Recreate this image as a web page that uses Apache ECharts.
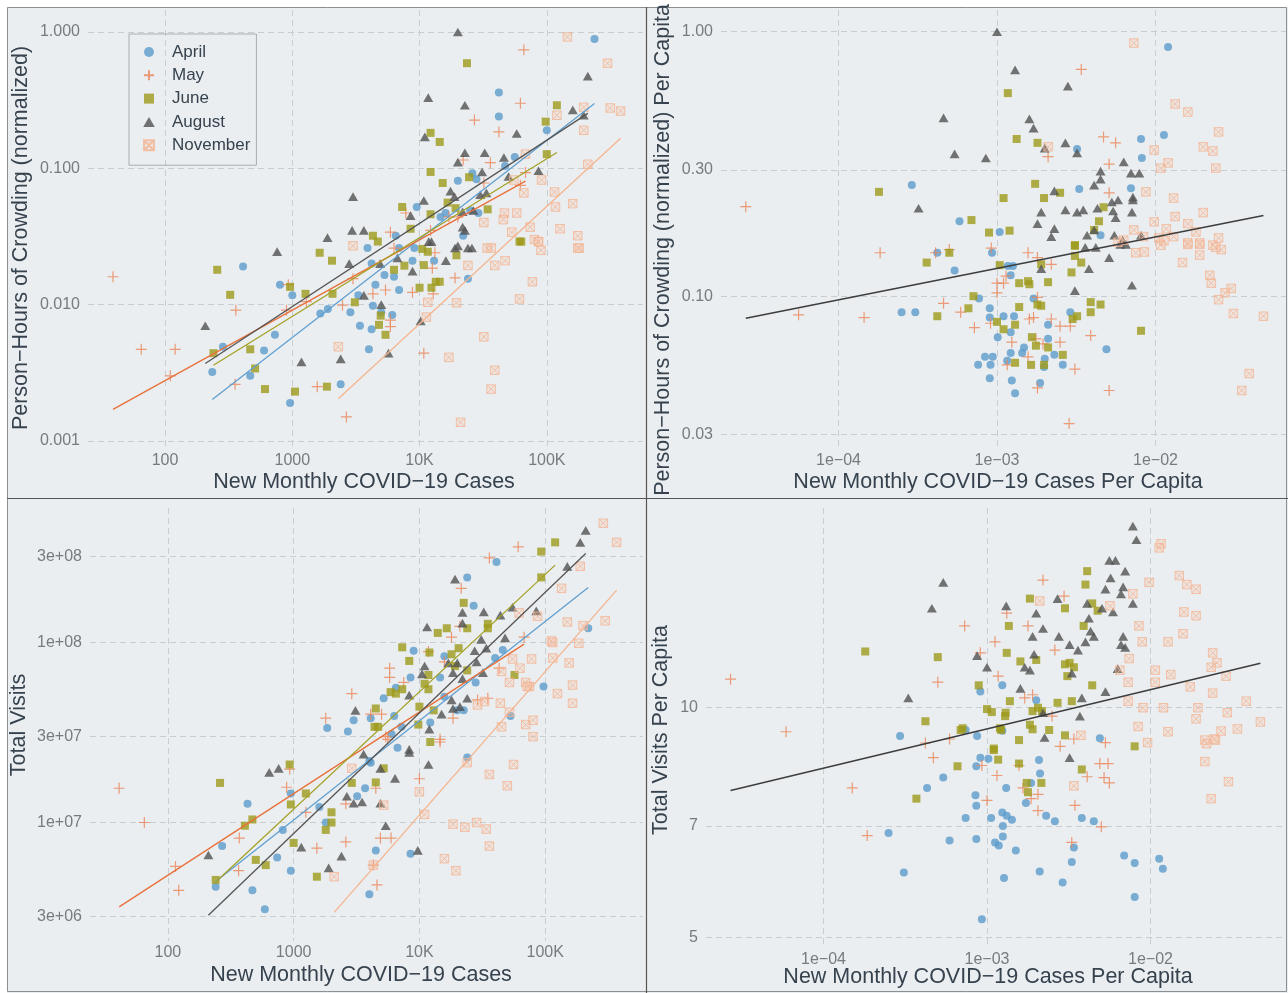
<!DOCTYPE html>
<html><head><meta charset="utf-8">
<script src="https://cdn.jsdelivr.net/npm/echarts@6/dist/echarts.min.js"></script>
<style>html,body{margin:0;padding:0;background:#fff}#c{width:1288px;height:993px;background:#ebeef0}</style>
</head><body><div id="c"></div><script>
// ---------------- DATA ----------------
const months = ['April','May','June','August','November'];

// Top-left: New Monthly COVID-19 Cases vs Person-Hours of Crowding (normalized)
const tlApril = [[235,0.0032],[285,0.0049],[410,0.019],[467,0.003],[600,0.0046],[730,0.006],[800,0.014],[960,0.0019],[1000,0.0117],[1660,0.0086],[1900,0.0093],[2400,0.0026],[2860,0.0088],[3300,0.0117],[3400,0.007],[4000,0.0047],[4300,0.0098],[4200,0.0066],[4500,0.014],[4200,0.02],[5000,0.0088],[5300,0.0165],[6100,0.0084],[6900,0.0128],[6300,0.016],[6900,0.026],[8800,0.021],[9100,0.026],[13000,0.021],[24000,0.0155],[9500,0.052],[20000,0.081],[26000,0.092],[28000,0.083],[42000,0.36],[42000,0.24],[56000,0.121],[47000,0.104],[100000,0.19],[237000,0.89],[14600,0.044],[16000,0.047],[25000,0.049],[29000,0.047],[22000,0.032],[6500,0.032],[3900,0.026]];
const tlMay = [[39,0.016],[65,0.0047],[120,0.0047],[110,0.003],[360,0.0091],[355,0.0026],[900,0.0091],[930,0.014],[1570,0.0025],[1290,0.0105],[2480,0.0099],[2660,0.0015],[3000,0.0155],[4300,0.012],[5400,0.0128],[5900,0.0077],[5900,0.0069],[6300,0.026],[10800,0.0044],[8800,0.0123],[12800,0.012],[13200,0.024],[19000,0.0157],[12600,0.0185],[66000,0.74],[62000,0.30],[27000,0.226],[42000,0.185],[36000,0.11],[22000,0.115],[68000,0.093],[62000,0.075],[32000,0.078],[17000,0.044],[20000,0.044],[7800,0.047],[5900,0.034],[12200,0.035]];
const tlJune = [[257,0.018],[325,0.0118],[240,0.0044],[467,0.0047],[510,0.0034],[610,0.0024],[960,0.0135],[1050,0.0023],[1270,0.012],[1640,0.024],[2050,0.021],[2070,0.012],[1870,0.0025],[3100,0.0104],[4700,0.029],[4950,0.0083],[4800,0.0071],[5400,0.006],[6300,0.018],[7600,0.0193],[10000,0.0133],[10800,0.0195],[10500,0.0256],[11600,0.0244],[12400,0.0133],[13400,0.0147],[14400,0.0147],[19500,0.023],[63000,0.029],[23600,0.59],[12200,0.182],[14400,0.156],[12200,0.094],[15200,0.078],[24500,0.086],[16600,0.056],[19200,0.051],[34300,0.05],[7300,0.052],[12200,0.046],[8500,0.036],[4300,0.032],[120000,0.29],[98000,0.22],[100000,0.127],[61000,0.029]];
const tlAugust = [[207,0.007],[760,0.0245],[1180,0.0038],[1890,0.031],[2800,0.02],[2400,0.004],[3650,0.0117],[5000,0.01],[4900,0.02],[5700,0.0044],[6700,0.022],[8800,0.0176],[10200,0.0076],[12400,0.029],[16100,0.021],[20000,0.027],[25800,0.026],[20000,1.0],[11700,0.33],[22700,0.29],[11000,0.17],[58000,0.18],[22700,0.13],[32500,0.13],[20000,0.111],[46000,0.12],[31000,0.094],[86000,0.096],[50000,0.087],[17500,0.068],[18800,0.062],[33500,0.066],[30000,0.064],[10800,0.058],[8500,0.045],[3000,0.062],[21800,0.048],[26500,0.049],[21800,0.037],[22700,0.035],[2950,0.035],[3650,0.035],[160000,0.268],[210000,0.475],[195000,0.245],[11800,0.029],[19000,0.026],[24000,0.026]];
const tlNovember = [[2300,0.0049],[11300,0.0081],[11600,0.0104],[17000,0.0041],[19500,0.0103],[21000,0.00137],[24000,0.0194],[32000,0.0058],[36500,0.0024],[39000,0.0033],[39000,0.0194],[47000,0.021],[36500,0.026],[61000,0.011],[77000,0.0147],[86000,0.029],[90000,0.025],[180000,0.026],[145000,0.92],[300000,0.59],[315000,0.277],[380000,0.263],[120000,0.245],[195000,0.28],[195000,0.19],[210000,0.107],[68000,0.127],[91000,0.082],[55000,0.082],[66000,0.066],[115000,0.067],[160000,0.055],[117000,0.052],[46500,0.047],[58000,0.047],[45500,0.042],[32000,0.04],[74000,0.037],[127000,0.036],[53000,0.034],[80000,0.03],[86000,0.029],[175000,0.032],[175000,0.026],[34000,0.026],[3000,0.027]];

// Top-right: cases per capita vs crowding per capita
const trApril = [[0.012,0.875],[0.0113,0.407],[0.0081,0.393],[0.0082,0.333],[0.0032,0.36],[0.007,0.256],[0.0033,0.254],[0.00029,0.263],[0.00058,0.192],[0.00104,0.175],[0.0045,0.17],[0.00042,0.146],[0.00093,0.146],[0.00054,0.125],[0.00117,0.13],[0.00126,0.13],[0.00122,0.12],[0.0017,0.098],[0.00025,0.087],[0.000305,0.087],[0.00077,0.098],[0.0009,0.09],[0.0009,0.083],[0.0011,0.084],[0.00128,0.084],[0.00122,0.073],[0.00101,0.07],[0.00148,0.064],[0.0021,0.078],[0.0021,0.069],[0.0029,0.087],[0.00144,0.061],[0.00084,0.059],[0.00094,0.059],[0.00076,0.055],[0.00091,0.055],[0.00116,0.057],[0.00122,0.061],[0.002,0.058],[0.0023,0.06],[0.00198,0.054],[0.0026,0.055],[0.0009,0.049],[0.00124,0.048],[0.0013,0.043],[0.00187,0.047],[0.0049,0.063]];
const trMay = [[0.000026,0.218],[0.0034,0.72],[0.0047,0.4],[0.0056,0.38],[0.0021,0.337],[0.0051,0.316],[0.0051,0.246],[0.000183,0.146],[0.00041,0.146],[0.0005,0.15],[0.00092,0.152],[0.00157,0.146],[0.0018,0.14],[0.0022,0.132],[0.000056,0.085],[0.000145,0.083],[0.00046,0.094],[0.00059,0.087],[0.00072,0.076],[0.00091,0.079],[0.001,0.112],[0.0011,0.112],[0.001,0.103],[0.00114,0.119],[0.0016,0.082],[0.0017,0.083],[0.0018,0.099],[0.00176,0.069],[0.00195,0.066],[0.0022,0.082],[0.0025,0.077],[0.0029,0.077],[0.00124,0.067],[0.00116,0.055],[0.00157,0.059],[0.0018,0.045],[0.0025,0.067],[0.0031,0.053],[0.0039,0.071],[0.0051,0.044],[0.00285,0.033]];
const trJune = [[0.00018,0.248],[0.00117,0.586],[0.00133,0.393],[0.0018,0.38],[0.00174,0.266],[0.0025,0.246],[0.00198,0.235],[0.0011,0.235],[0.00069,0.194],[0.00089,0.174],[0.0012,0.177],[0.0047,0.217],[0.0044,0.192],[0.0041,0.178],[0.0031,0.156],[0.0005,0.146],[0.00036,0.134],[0.00104,0.131],[0.0019,0.132],[0.0031,0.142],[0.0034,0.134],[0.0031,0.155],[0.00295,0.123],[0.00138,0.112],[0.00157,0.114],[0.0016,0.111],[0.0021,0.113],[0.00071,0.1],[0.00066,0.09],[0.00042,0.084],[0.00138,0.091],[0.0018,0.093],[0.0019,0.092],[0.001,0.08],[0.0011,0.075],[0.0013,0.078],[0.00166,0.07],[0.00176,0.065],[0.0021,0.064],[0.0013,0.056],[0.00164,0.055],[0.00198,0.055],[0.0026,0.06],[0.003,0.082],[0.0032,0.084],[0.0039,0.087],[0.0045,0.093],[0.0039,0.095],[0.0081,0.074]];
const trAugust = [[0.001,1.0],[0.0013,0.717],[0.0028,0.623],[0.00046,0.472],[0.0016,0.468],[0.0017,0.432],[0.00054,0.345],[0.00085,0.333],[0.002,0.363],[0.0027,0.38],[0.0032,0.348],[0.00032,0.215],[0.0023,0.25],[0.0045,0.297],[0.0045,0.277],[0.0041,0.263],[0.0063,0.322],[0.007,0.292],[0.0079,0.292],[0.0072,0.237],[0.0072,0.231],[0.0019,0.208],[0.0027,0.212],[0.0032,0.208],[0.0035,0.212],[0.0043,0.215],[0.0053,0.227],[0.0058,0.231],[0.0054,0.21],[0.0056,0.198],[0.0071,0.208],[0.0018,0.188],[0.0023,0.18],[0.0041,0.178],[0.0037,0.17],[0.0022,0.168],[0.0055,0.17],[0.0062,0.163],[0.0081,0.17],[0.0036,0.153],[0.0042,0.153],[0.0019,0.127],[0.0038,0.127],[0.0031,0.105],[0.0071,0.11],[0.0051,0.14],[0.006,0.157],[0.0065,0.157]];
const trNovember = [[0.0073,0.906],[0.0133,0.533],[0.016,0.497],[0.025,0.418],[0.02,0.367],[0.023,0.354],[0.0098,0.357],[0.0021,0.367],[0.012,0.319],[0.0108,0.305],[0.024,0.305],[0.0087,0.248],[0.013,0.235],[0.02,0.207],[0.0098,0.191],[0.0133,0.2],[0.016,0.188],[0.018,0.175],[0.0117,0.18],[0.013,0.168],[0.0073,0.178],[0.0084,0.168],[0.025,0.166],[0.023,0.156],[0.016,0.159],[0.019,0.159],[0.0105,0.166],[0.0113,0.162],[0.0058,0.16],[0.0063,0.163],[0.0075,0.146],[0.0085,0.147],[0.0108,0.156],[0.0148,0.134],[0.019,0.143],[0.016,0.157],[0.019,0.157],[0.022,0.12],[0.0225,0.112],[0.025,0.097],[0.0275,0.103],[0.03,0.107],[0.031,0.086],[0.048,0.084],[0.039,0.051],[0.035,0.044],[0.024,0.153],[0.026,0.15]];

// Bottom-left: New Monthly COVID-19 Cases vs Total Visits
const blApril = [[41000,2.8e8],[24000,2.3e8],[27000,1.6e8],[220000,1.2e8],[9000,9.0e7],[15800,8.4e7],[40000,8.2e7],[46000,9.1e7],[8500,6.4e7],[14600,6.4e7],[28000,6.0e7],[97000,5.7e7],[6500,5.6e7],[5200,4.9e7],[15800,5.0e7],[20000,4.2e7],[22500,4.2e7],[4100,3.8e7],[3000,3.7e7],[6300,3.9e7],[53000,3.9e7],[1850,3.35e7],[2700,3.2e7],[7200,3.4e7],[12200,3.6e7],[6000,3.1e7],[6700,2.6e7],[4000,2.2e7],[4100,2.15e7],[24000,2.3e7],[3700,1.55e7],[3200,1.4e7],[950,1.45e7],[1600,1.22e7],[430,1.27e7],[1800,1.0e7],[820,9.1e6],[270,7.4e6],[740,6.4e6],[4500,7.0e6],[8500,6.7e6],[950,5.4e6],[240,4.4e6],[470,4.2e6],[590,3.3e6],[4000,4.0e6]];
const blMay = [[61000,3.4e8],[36000,2.95e8],[21500,2.0e8],[18000,1.07e8],[21000,1.23e8],[68000,1.07e8],[11800,8.9e7],[15800,7.8e7],[5800,7.2e7],[5800,6.4e7],[7500,6.0e7],[43000,7.2e7],[2900,5.2e7],[4100,4.0e7],[5000,4.0e7],[18500,3.8e7],[29000,4.8e7],[35000,4.9e7],[1800,3.8e7],[5400,3.0e7],[5600,2.9e7],[14600,2.9e7],[41,1.55e7],[65,1.0e7],[115,5.7e6],[122,4.2e6],[370,8.2e6],[365,5.4e6],[880,1.57e7],[930,1.98e7],[1250,1.14e7],[1530,7.2e6],[2600,7.8e6],[2600,1.27e7],[4900,8.2e6],[5950,8.2e6],[4300,5.8e6],[4600,4.5e6],[4500,1.55e7],[10000,1.75e7],[14600,2.8e7]];
const blJune = [[120000,3.6e8],[93000,3.2e8],[93000,2.3e8],[22500,1.66e8],[35000,1.27e8],[35000,1.2e8],[14000,1.13e8],[16500,1.2e8],[24000,1.2e8],[7300,9.4e7],[12000,8.8e7],[20500,9.3e7],[18000,8.6e7],[8300,7.9e7],[19200,7.4e7],[11800,6.6e7],[24000,7.0e7],[11000,5.9e7],[11800,5.5e7],[57000,6.6e7],[5900,5.3e7],[6500,5.2e7],[7300,5.5e7],[10000,4.4e7],[13000,4.2e7],[4500,4.3e7],[4400,3.4e7],[4700,3.4e7],[9800,3.5e7],[12200,2.8e7],[5200,2.0e7],[2900,1.66e7],[4500,1.67e7],[930,2.1e7],[950,1.26e7],[1250,1.45e7],[260,1.66e7],[470,1.04e7],[410,9.6e6],[2000,1.14e7],[2000,1.0e7],[1800,9.1e6],[1000,7.7e6],[500,6.2e6],[600,5.8e6],[240,4.8e6],[1530,5.0e6]];
const blAugust = [[210000,4.2e8],[190000,3.6e8],[150000,2.65e8],[19200,2.25e8],[22000,1.47e8],[32500,1.48e8],[44000,1.42e8],[55000,1.57e8],[85000,1.5e8],[11500,1.22e8],[22000,1.28e8],[31000,1.04e8],[48000,1.06e8],[27500,9.0e7],[34000,9.3e7],[17000,7.7e7],[20000,7.7e7],[28500,7.8e7],[11000,7.4e7],[10500,6.7e7],[18500,6.8e7],[22000,6.3e7],[32000,6.8e7],[8300,5.1e7],[18000,4.8e7],[24000,4.9e7],[21000,4.4e7],[18500,4.3e7],[3100,4.2e7],[15000,4.0e7],[12000,3.3e7],[8300,2.55e7],[3600,2.4e7],[8300,2.45e7],[11800,2.1e7],[640,1.9e7],[760,2.0e7],[4900,2.0e7],[6400,1.76e7],[2650,1.4e7],[3000,1.28e7],[3500,1.3e7],[4900,1.28e7],[5400,9.6e6],[1150,7.3e6],[9700,7.0e6],[2400,6.5e6],[1900,5.6e6],[210,6.6e6]];
const blNovember = [[290000,4.6e8],[370000,3.6e8],[190000,2.65e8],[135000,2.0e8],[87000,1.4e8],[62000,1.46e8],[150000,1.3e8],[200000,1.24e8],[300000,1.32e8],[115000,1.0e8],[112000,1.02e8],[185000,9.9e7],[55000,8.1e7],[78000,8.1e7],[115000,8.2e7],[155000,7.7e7],[63000,7.2e7],[52000,6.0e7],[45000,6.9e7],[70000,6.0e7],[75000,5.7e7],[72000,5.7e7],[165000,5.8e7],[125000,5.2e7],[165000,4.6e7],[44000,4.6e7],[52000,4.1e7],[80000,3.7e7],[70000,3.5e7],[45000,3.4e7],[80000,3.0e7],[33000,4.7e7],[29000,4.5e7],[56000,2.1e7],[36000,1.85e7],[50000,1.6e7],[24000,2.15e7],[10000,1.48e7],[11000,1.11e7],[18500,9.8e6],[23000,9.4e6],[28500,1.0e7],[34000,9.2e6],[36000,7.4e6],[15800,6.3e6],[19500,5.4e6],[4300,5.8e6],[2100,5.0e6],[2900,2.0e7],[5200,1.25e7]];

// Bottom-right: cases per capita vs total visits per capita
const brApril = [[0.00091,10.5],[0.00124,10.7],[0.002,10.23],[0.000294,9.18],[0.00074,9.35],[0.00087,9.18],[0.00124,9.33],[0.0049,9.12],[0.00091,8.6],[0.00102,8.57],[0.00086,8.38],[0.00054,8.1],[0.00043,7.85],[0.00131,7.85],[0.00186,7.97],[0.00211,8.2],[0.00208,8.54],[0.00085,7.68],[0.00086,7.44],[0.00173,7.5],[0.00074,7.17],[0.00106,7.17],[0.00124,7.29],[0.00132,7.22],[0.00142,7.13],[0.0023,7.22],[0.0026,7.1],[0.0038,7.17],[0.0045,7.1],[0.00125,7.0],[0.00025,6.85],[0.00059,6.7],[0.00086,6.73],[0.00112,6.66],[0.00118,6.6],[0.00125,6.78],[0.0015,6.5],[0.0034,6.56],[0.0033,6.28],[0.0069,6.4],[0.008,6.26],[0.0113,6.34],[0.0119,6.15],[0.00031,6.08],[0.00127,5.98],[0.0021,6.1],[0.0029,5.9],[0.008,5.65],[0.00093,5.28]];
const brMay = [[0.000027,10.9],[0.000059,9.3],[0.0022,14.7],[0.00296,14.0],[0.00132,13.3],[0.00073,12.8],[0.00178,12.8],[0.00112,12.2],[0.00091,11.8],[0.0005,10.8],[0.00117,11.0],[0.0026,11.9],[0.0017,10.3],[0.0019,10.4],[0.0025,9.75],[0.00042,8.99],[0.00059,9.1],[0.0034,9.1],[0.0028,8.9],[0.0053,9.0],[0.00047,8.6],[0.00093,8.4],[0.00115,8.15],[0.00015,7.85],[0.000185,6.8],[0.00157,8.4],[0.00166,7.85],[0.00186,7.6],[0.00205,7.7],[0.00205,7.33],[0.0041,8.12],[0.0049,8.45],[0.0052,8.1],[0.0056,7.97],[0.0055,8.45],[0.00345,7.45],[0.0033,6.66],[0.005,6.98],[0.001,7.56]];
const brJune = [[0.00018,11.85],[0.0005,11.65],[0.0041,15.1],[0.004,14.5],[0.00183,13.9],[0.003,13.5],[0.0044,13.7],[0.00475,13.4],[0.00136,12.8],[0.0039,12.8],[0.00132,11.8],[0.0016,11.5],[0.002,11.55],[0.003,11.4],[0.0032,11.45],[0.0034,11.3],[0.0031,11.0],[0.00089,10.7],[0.0044,10.7],[0.00138,10.2],[0.0027,10.15],[0.0033,10.2],[0.001,9.96],[0.00107,9.87],[0.0013,9.85],[0.00129,9.75],[0.0019,9.9],[0.00205,10.0],[0.00217,9.9],[0.00042,9.6],[0.00071,9.4],[0.00069,9.35],[0.0012,9.4],[0.00122,9.35],[0.00183,9.5],[0.0019,9.37],[0.0024,9.35],[0.003,9.2],[0.00157,9.07],[0.0011,8.84],[0.008,8.9],[0.0011,8.8],[0.00117,8.55],[0.00066,8.38],[0.00157,8.45],[0.0038,8.3],[0.00037,7.6],[0.00175,7.97],[0.00178,7.75],[0.00215,7.97]];
const brAugust = [[0.0078,17.3],[0.0082,16.6],[0.0056,15.6],[0.0061,15.6],[0.0057,14.8],[0.007,15.1],[0.0053,14.3],[0.0068,14.4],[0.0066,14.1],[0.0078,13.7],[0.00054,14.6],[0.00046,13.5],[0.00131,13.6],[0.002,13.3],[0.0027,13.9],[0.0041,13.7],[0.00505,13.5],[0.0059,13.35],[0.0022,12.7],[0.0042,13.1],[0.0043,12.6],[0.0045,12.4],[0.0019,12.4],[0.00275,12.4],[0.0032,12.1],[0.0036,11.9],[0.004,12.2],[0.0068,12.4],[0.0066,12.1],[0.007,12.0],[0.00087,11.7],[0.001,11.3],[0.00194,11.75],[0.0017,11.3],[0.00183,11.2],[0.0016,10.6],[0.0033,11.1],[0.0063,11.25],[0.0053,10.5],[0.0038,10.3],[0.0037,9.75],[0.00033,10.3],[0.0022,9.85],[0.00225,9.14],[0.0032,8.6]];
const brNovember = [[0.0116,16.4],[0.0113,16.2],[0.015,14.9],[0.0167,14.5],[0.019,14.3],[0.0098,14.6],[0.0021,13.8],[0.016,13.35],[0.019,13.2],[0.0078,14.1],[0.00565,13.6],[0.0085,12.8],[0.0158,12.5],[0.0128,12.2],[0.0089,12.2],[0.024,11.8],[0.0255,11.45],[0.0235,11.3],[0.0074,11.6],[0.0065,11.2],[0.0107,11.2],[0.0133,11.05],[0.029,11.0],[0.0073,10.8],[0.0107,10.8],[0.0175,10.65],[0.024,10.45],[0.0073,10.2],[0.009,10.0],[0.012,10.0],[0.0195,10.0],[0.0385,10.2],[0.0295,9.85],[0.019,9.67],[0.047,9.58],[0.034,9.38],[0.027,9.32],[0.0245,9.1],[0.0215,9.07],[0.0128,9.3],[0.0084,9.45],[0.0096,9.0],[0.00375,9.2],[0.022,8.97],[0.025,9.07],[0.0215,8.5],[0.03,8.0],[0.0235,7.6],[0.0034,7.9]];

// tick values
const casesTicks = [100, 1000, 10000, 100000];
const casesTickLabels = ['100', '1000', '10K', '100K'];
const perCapTicks = [1e-4, 1e-3, 1e-2];
const perCapTickLabels = ['1e\u221204', '1e\u221203', '1e\u221202'];
const crowdTicks = [0.001, 0.01, 0.1, 1];
const crowdTickLabels = ['0.001', '0.010', '0.100', '1.000'];
const crowdPcTicks = [0.03, 0.1, 0.3, 1];
const crowdPcTickLabels = ['0.03', '0.10', '0.30', '1.00'];
const visitTicks = [3e6, 1e7, 3e7, 1e8, 3e8];
const visitTickLabels = ['3e+06', '1e+07', '3e+07', '1e+08', '3e+08'];
const visitPcTicks = [5, 7, 10];
const visitPcTickLabels = ['5', '7', '10'];

// ---------------- STYLE ----------------
const FONT = 'Liberation Sans, Arial, sans-serif';
const TITLE_C = '#36434f';
const TICK_C = '#767b80';
const GRID_C = '#c8cdd1';
const colors = {April:'#5b9bcc', May:'#ea8457', June:'#9d9a1a', August:'#515151', November:'#f2b493'};
const lineColors = {April:'#5f9fd0', May:'#e8703a', June:'#a3a126', August:'#555555', November:'#f4b48e'};
const PLUS = 'path://M5,0L5,10M0,5L10,5';
const BOXX = 'path://M0,0L10,0L10,10L0,10ZM0,0L10,10M10,0L0,10';
const SQUARE = 'path://M0,0L10,0L10,10L0,10Z';
const TRI = 'path://M5,0L10,8.66L0,8.66Z';
const symStyle = {
  April:   {symbol:'circle', symbolSize:8, itemStyle:{color:colors.April}},
  May:     {symbol:PLUS, symbolSize:11, itemStyle:{color:'rgba(0,0,0,0)', borderColor:colors.May, borderWidth:1.2}},
  June:    {symbol:SQUARE, symbolSize:8, itemStyle:{color:colors.June}},
  August:  {symbol:TRI, symbolSize:10, symbolKeepAspect:true, itemStyle:{color:colors.August}},
  November:{symbol:BOXX, symbolSize:8.5, itemStyle:{color:'rgba(245,190,160,0.25)', borderColor:colors.November, borderWidth:1}}
};

function logFit(pts){
  let n=pts.length, sx=0, sy=0, sxx=0, sxy=0, mn=Infinity, mx=-Infinity;
  pts.forEach(([x,y])=>{const lx=Math.log10(x), ly=Math.log10(y); sx+=lx; sy+=ly; sxx+=lx*lx; sxy+=lx*ly; if(lx<mn)mn=lx; if(lx>mx)mx=lx;});
  const b=(n*sxy-sx*sy)/(n*sxx-sx*sx), a=(sy-b*sx)/n;
  return [[Math.pow(10,mn), Math.pow(10,a+b*mn)], [Math.pow(10,mx), Math.pow(10,a+b*mx)]];
}

const panels = [
  {data:{April:tlApril, May:tlMay, June:tlJune, August:tlAugust, November:tlNovember}, fit:'each'},
  {data:{April:trApril, May:trMay, June:trJune, August:trAugust, November:trNovember}, fit:'all'},
  {data:{April:blApril, May:blMay, June:blJune, August:blAugust, November:blNovember}, fit:'each'},
  {data:{April:brApril, May:brMay, June:brJune, August:brAugust, November:brNovember}, fit:'all'}
];

const grids = [
  {left:88, top:10, width:555, height:439},
  {left:721, top:10, width:565, height:439},
  {left:90, top:508, width:553, height:433},
  {left:706, top:508, width:580, height:440}
];

function axis(gi, ticks, labels, min, max){
  return {
    type:'log', logBase:10, gridIndex:gi, min:min, max:max,
    axisLine:{show:false},
    axisTick:{show:false, customValues:ticks},
    splitLine:{show:true, lineStyle:{color:GRID_C, type:[6,4], width:1}},
    minorSplitLine:{show:false},
    axisLabel:{
      customValues:ticks, color:TICK_C, fontFamily:FONT, fontSize:16, margin:6,
      formatter:(v)=>{ let best=0, bd=Infinity; ticks.forEach((t,i)=>{const d=Math.abs(Math.log10(v)-Math.log10(t)); if(d<bd){bd=d;best=i;}}); return labels[best]; }
    }
  };
}

const xAxes = [
  axis(0, casesTicks, casesTickLabels, 24.8, 570000),
  axis(1, perCapTicks, perCapTickLabels, 1.814e-5, 0.06656),
  axis(2, casesTicks, casesTickLabels, 24.04, 599500),
  axis(3, perCapTicks, perCapTickLabels, 1.911e-5, 0.06741)
];
xAxes.forEach(a=>{a.axisLabel.margin=4;});
const yAxes = [
  axis(0, crowdTicks, crowdTickLabels, 8.72e-4, 1.45),
  axis(1, crowdPcTicks, crowdPcTickLabels, 0.02644, 1.208),
  axis(2, visitTicks, visitTickLabels, 2.197e6, 5.587e8),
  axis(3, visitPcTicks, visitPcTickLabels, 4.843, 18.27)
];
yAxes.forEach(a=>{a.axisLabel.margin=8;});

const series = [];
panels.forEach((p, gi)=>{
  months.forEach(m=>{
    series.push(Object.assign({
      type:'scatter', name:m, xAxisIndex:gi, yAxisIndex:gi, data:p.data[m], z:3
    }, JSON.parse(JSON.stringify(symStyle[m]))));
  });
  if (p.fit==='each'){
    months.forEach(m=>{
      series.push({type:'line', name:'fit '+m, xAxisIndex:gi, yAxisIndex:gi, data:logFit(p.data[m]),
        symbol:'none', silent:true, z:4, lineStyle:{color:lineColors[m], width:1.3}});
    });
  } else {
    const all = [].concat(...months.map(m=>p.data[m]));
    series.push({type:'line', name:'fit all', xAxisIndex:gi, yAxisIndex:gi, data:logFit(all),
      symbol:'none', silent:true, z:4, lineStyle:{color:'#3d3d3d', width:1.5}});
  }
});

function title(text, x, y, rot){
  return {type:'text', x:x, y:y, rotation: rot ? Math.PI/2 : 0, silent:true, z:10,
    style:{text:text, fill:TITLE_C, font:'21.5px '+FONT, textAlign:'center', textVerticalAlign:'middle'}};
}

const option = {
  animation:false,
  backgroundColor:'transparent',
  grid: grids,
  xAxis: xAxes,
  yAxis: yAxes,
  legend: {
    data: months, orient:'vertical', left:129, top:34, selectedMode:false,
    itemWidth:36, itemHeight:10, itemGap:3.3, symbolKeepAspect:true,
    padding:[8,6,10,14],
    backgroundColor:'rgba(0,0,0,0)', borderColor:'#a9adb0', borderWidth:1,
    textStyle:{color:TITLE_C, fontFamily:FONT, fontSize:17, lineHeight:20}
  },
  graphic: [
    {type:'rect', shape:{x:0,y:0,width:1288,height:7}, style:{fill:'#fff'}, silent:true},
    {type:'rect', shape:{x:0,y:0,width:7,height:993}, style:{fill:'#fff'}, silent:true},
    {type:'rect', shape:{x:7.5,y:7.5,width:1279,height:984}, style:{fill:'none', stroke:'#8a8f93', lineWidth:1}, silent:true},
    {type:'line', shape:{x1:646.5,y1:7,x2:646.5,y2:993}, style:{stroke:'#555', lineWidth:1.2}, silent:true},
    {type:'line', shape:{x1:7,y1:498.5,x2:1288,y2:498.5}, style:{stroke:'#555', lineWidth:1.2}, silent:true},
    title('New Monthly COVID\u221219 Cases', 364, 482, false),
    title('New Monthly COVID\u221219 Cases Per Capita', 998, 482, false),
    title('New Monthly COVID\u221219 Cases', 361, 975, false),
    title('New Monthly COVID\u221219 Cases Per Capita', 988, 977, false),
    title('Person\u2212Hours of Crowding (normalized)', 21, 238, true),
    title('Person\u2212Hours of Crowding (normalized) Per Capita', 663, 250, true),
    title('Total Visits', 19, 725, true),
    title('Total Visits Per Capita', 661, 730, true)
  ],
  series: series
};

const chart = echarts.init(document.getElementById('c'), null, {renderer:'canvas'});
chart.setOption(option);
</script></body></html>
